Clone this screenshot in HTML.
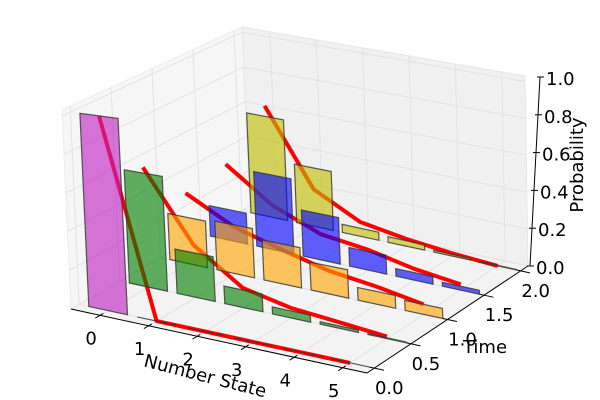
<!DOCTYPE html>
<html><head><meta charset="utf-8">
<style>
html,body{margin:0;padding:0;background:#fff;}
svg{display:block;}
text{font-family:"DejaVu Sans","Liberation Sans",sans-serif;font-size:18px;fill:#000;}
</style></head>
<body>
<svg id="chart" width="600" height="400" viewBox="0 0 600 400">
<g id="panes"></g>
<g id="grid"></g>
<g id="lines"></g>
<g id="bars"></g>
<g id="axes"></g>
<text x="0" y="0" transform="translate(205,377) rotate(14.5)" text-anchor="middle" dominant-baseline="middle">Number State</text>
<text x="485" y="348" text-anchor="middle" dominant-baseline="middle">Time</text>
<text x="0" y="0" transform="translate(578,165) rotate(-90)" text-anchor="middle" dominant-baseline="middle">Probability</text>
</svg>
<script>
const states = [0, 1, 2, 3, 4, 5];
const times = [0, 0.5, 1, 1.5, 2];
const barT0 = [1, 0, 0, 0, 0, 0];
const barT05 = [0.60, 0.23, 0.09, 0.035, 0.012, 0.004];
const barT1 = [0.25, 0.26, 0.21, 0.145, 0.065, 0.05];
const barT15 = [0.17, 0.41, 0.25, 0.10, 0.04, 0.02];
const barT2 = [0.57, 0.33, 0.045, 0.03, 0.01, 0.003];
const lineT0 = [1, 0, 0, 0, 0, 0];
const lineT05 = [0.63, 0.27, 0.10, 0.05, 0.03, 0.01];
const lineT1 = [0.38, 0.25, 0.18, 0.12, 0.09, 0.05];
const lineT15 = [0.42, 0.24, 0.14, 0.11, 0.06, 0.03];
const lineT2 = [0.63, 0.21, 0.08, 0.04, 0.015, 0];
const xTickLabels = ["0", "1", "2", "3", "4", "5"];
const yTicks = [0, 0.5, 1, 1.5, 2];
const yTickLabels = ["0.0", "0.5", "1.0", "1.5", "2.0"];
const zTicks = [0, 0.2, 0.4, 0.6, 0.8, 1.0];
const zTickLabels = ["0.0", "0.2", "0.4", "0.6", "0.8", "1.0"];

const barSets = [barT0, barT05, barT1, barT15, barT2];
const lineSets = [lineT0, lineT05, lineT1, lineT15, lineT2];
const colors = ["#c020c0", "#008000", "#ffa500", "#0000ff", "#bfbf00"];

const X0 = -0.6, X1 = 5.5, Y0 = -0.1, Y1 = 2.1, Z1 = 1.03;
const A = [71, 309], B = [367, 373], C = [528, 266], D = [250, 206];
const E = [62, 110], F = [352, 148], G = [525, 76], H = [242, 27];
function lerp(p, q, t) { return [p[0] + (q[0] - p[0]) * t, p[1] + (q[1] - p[1]) * t]; }
function P(x, y, z) {
  const u = (x - X0) / (X1 - X0), v = (y - Y0) / (Y1 - Y0), w = z / Z1;
  const bot = lerp(lerp(A, B, u), lerp(D, C, u), v);
  const top = lerp(lerp(E, F, u), lerp(H, G, u), v);
  return lerp(bot, top, w);
}
const NS = "http://www.w3.org/2000/svg";
function mk(tag, parent, attrs) {
  const el = document.createElementNS(NS, tag);
  for (const k in attrs) el.setAttribute(k, attrs[k]);
  parent.appendChild(el);
  return el;
}
function pts(arr) { return arr.map(p => p[0].toFixed(1) + "," + p[1].toFixed(1)).join(" "); }

const panes = document.getElementById("panes");
let el;
el = mk("polygon", panes, {points: pts([P(X0,Y0,0), P(X0,Y1,0), P(X0,Y1,Z1), P(X0,Y0,Z1)]), fill: "#f6f6f6", stroke: "#ececec", "stroke-width": 1});


el = mk("polygon", panes, {points: pts([P(X0,Y1,0), P(X1,Y1,0), P(X1,Y1,Z1), P(X0,Y1,Z1)]), fill: "#f0f0f0", stroke: "#e6e6e6", "stroke-width": 1});


el = mk("polygon", panes, {points: pts([P(X0,Y0,0), P(X1,Y0,0), P(X1,Y1,0), P(X0,Y1,0)]), fill: "#f3f3f3", stroke: "#e8e8e8", "stroke-width": 1});



const grid = document.getElementById("grid");
function gl(p, q, name) {
  const l = mk("line", grid, {x1: p[0], y1: p[1], x2: q[0], y2: q[1], stroke: "#e2e2e2", "stroke-width": 1});
  
  
}
states.forEach(i => { gl(P(i,Y0,0), P(i,Y1,0), "floor-grid-x"); gl(P(i,Y1,0), P(i,Y1,Z1), "back-grid-x"); });
yTicks.forEach(t => { gl(P(X0,t,0), P(X1,t,0), "floor-grid-y"); gl(P(X0,t,0), P(X0,t,Z1), "left-grid-y"); });
zTicks.forEach(z => { gl(P(X0,Y1,z), P(X1,Y1,z), "back-grid-z"); gl(P(X0,Y0,z), P(X0,Y1,z), "left-grid-z"); });

const lines = document.getElementById("lines");
lineSets.forEach((vals, k) => {
  const pl = mk("polyline", lines, {points: pts(states.map((s, i) => P(s, times[k], vals[i]))), fill: "none", stroke: "#ff0000", "stroke-width": 4, "stroke-linejoin": "round"});
  
  
});

const bars = document.getElementById("bars");
for (let k = times.length - 1; k >= 0; k--) {
  const t = times[k];
  states.forEach((s, i) => {
    const h = barSets[k][i];
    const poly = mk("polygon", bars, {points: pts([P(s-0.4,t,0), P(s+0.4,t,0), P(s+0.4,t,h), P(s-0.4,t,h)]), fill: colors[k], "fill-opacity": 0.62, stroke: "#333", "stroke-opacity": 0.8, "stroke-width": 1.2});
    
    
  });
}

const axes = document.getElementById("axes");
function al(p, q, name) {
  const l = mk("line", axes, {x1: p[0], y1: p[1], x2: q[0], y2: q[1], stroke: "#000", "stroke-width": 1});
  
  
}
function tx(p, s, anchor, name) {
  const t = mk("text", axes, {x: p[0], y: p[1], "text-anchor": anchor, "dominant-baseline": "middle"});
  t.textContent = s;
  
  
}
al(P(X0,Y0,0), P(X1,Y0,0), "x-axis-line");
states.forEach((s, i) => {
  al(P(s,Y0+0.04,0), P(s,Y0-0.06,0), "x-tick");
  const p = P(s,Y0,0);
  tx([p[0]-9, p[1]+24], xTickLabels[i], "middle", "x-tick-label");
});
al(P(X1,Y0,0), P(X1,Y1,0), "y-axis-line");
yTicks.forEach((t, i) => {
  al(P(X1-0.1,t,0), P(X1+0.2,t,0), "y-tick");
  const p = P(X1,t,0);
  tx([p[0]+15, p[1]+21], yTickLabels[i], "middle", "y-tick-label");
});
const zb = [530, 266], zt = [540, 77];
function zAxis(z) { return lerp(zb, zt, z / 1.0); }
al(zb, zt, "z-axis-line");
zTicks.forEach((z, i) => {
  const p = zAxis(z);
  al([p[0]-3, p[1]], [p[0]+4, p[1]], "z-tick");
  tx([p[0]+6, p[1]+3], zTickLabels[i], "start", "z-tick-label");
});
</script>
</body></html>
